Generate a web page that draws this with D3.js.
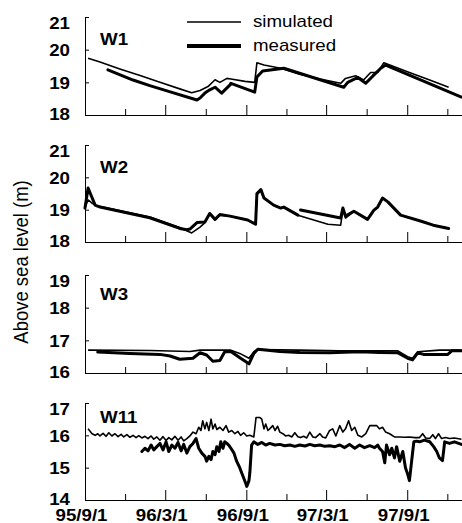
<!DOCTYPE html>
<html>
<head>
<meta charset="utf-8">
<script src="https://d3js.org/d3.v7.min.js"></script>
<style>
  body { margin: 0; background: #fff; }
  svg { display: block; font-family: Arial, "Liberation Sans", sans-serif; }
</style>
</head>
<body>
<script>
// data: [days after 1995/9/1, water level above sea level (m)]
var w1Sim = [[7,19.74],[34,19.62],[79,19.41],[125,19.21],[170,19.0],[215,18.8],[242,18.68],[261,18.75],[279,18.87],[295,19.08],[306,19.0],[322,19.12],[331,19.1],[363,19.03],[385,19.0],[390,19.6],[406,19.53],[444,19.43],[487,19.25],[533,19.1],[580,18.97],[591,19.12],[614,19.2],[632,19.07],[648,19.3],[664,19.3],[678,19.6],[736,19.3],[782,19.07],[825,18.85]];
var w1Mea = [[52,19.38],[109,19.07],[147,18.9],[186,18.74],[254,18.46],[261,18.52],[272,18.67],[283,18.77],[295,18.85],[310,18.67],[329,18.92],[331,18.97],[385,18.7],[390,19.16],[403,19.35],[451,19.43],[587,18.85],[596,19.0],[619,19.15],[637,18.97],[655,19.22],[671,19.43],[682,19.53],[854,18.55]];

var w2Sim = [[0,19.08],[7,19.3],[16,19.2],[27,19.12],[147,18.77],[215,18.45],[242,18.28],[261,18.46],[272,18.6],[283,18.9],[295,18.68],[306,18.83],[329,18.8],[369,18.68],[387,18.55],[390,19.45],[399,19.6],[406,19.36],[428,19.14],[444,19.05],[451,19.08],[483,18.83],[551,18.55],[580,18.52],[585,19.0],[591,18.74],[610,18.95],[641,18.7],[655,18.98],[664,19.08],[675,19.36],[687,19.24],[716,18.83],[761,18.65],[790,18.52],[823,18.43]];
var w2Mea = [[0,19.05],[7,19.67],[23,19.14],[34,19.08],[147,18.75],[215,18.42],[231,18.38],[238,18.4],[254,18.6],[272,18.62],[283,18.88],[295,18.7],[306,18.85],[329,18.8],[369,18.68],[387,18.55],[390,19.5],[399,19.62],[406,19.36],[428,19.14],[444,19.05],[451,19.08],[483,18.83],[486,null],[489,18.99],[580,18.74],[585,19.05],[591,18.8],[610,18.95],[641,18.7],[655,18.98],[664,19.08],[675,19.36],[687,19.24],[716,18.83],[761,18.65],[790,18.52],[825,18.42]];

var w3Sim = [[7,16.7],[147,16.69],[238,16.66],[261,16.7],[331,16.7],[351,16.6],[372,16.45],[383,16.65],[392,16.72],[487,16.7],[578,16.68],[709,16.68],[732,16.5],[743,16.45],[755,16.65],[804,16.7],[854,16.7]];
var w3Mea = [[29,16.64],[102,16.6],[170,16.57],[193,16.52],[215,16.42],[245,16.45],[261,16.62],[276,16.55],[290,16.36],[306,16.38],[317,16.65],[331,16.66],[353,16.45],[372,16.28],[383,16.6],[392,16.73],[442,16.66],[487,16.63],[555,16.62],[623,16.65],[668,16.63],[709,16.62],[732,16.45],[743,16.4],[755,16.62],[768,16.57],[823,16.57],[832,16.68],[854,16.68]];

var w11Sim = [[7,16.2],[16,16.05],[23,16.0],[29,16.05],[34,15.98],[41,16.06],[48,15.97],[54,16.08],[61,15.98],[68,16.05],[75,15.96],[82,16.03],[88,15.95],[95,16.02],[102,15.94],[109,16.0],[116,15.93],[122,15.99],[129,15.92],[136,15.97],[143,15.9],[150,15.98],[156,15.88],[163,15.95],[170,15.85],[177,15.96],[184,15.84],[190,15.93],[197,15.86],[204,15.97],[211,15.85],[218,15.95],[224,15.83],[231,15.9],[238,15.98],[245,16.1],[252,16.05],[258,16.25],[263,16.15],[267,16.45],[272,16.2],[276,16.4],[281,16.15],[286,16.5],[290,16.2],[295,16.35],[299,16.18],[306,16.25],[313,16.15],[320,16.3],[326,16.1],[333,16.15],[340,16.05],[347,16.12],[353,16.0],[360,16.08],[367,15.98],[374,16.0],[383,15.95],[388,16.55],[397,16.55],[401,16.5],[406,16.2],[410,16.35],[415,16.15],[419,16.2],[426,16.3],[431,16.15],[437,16.28],[442,16.1],[449,16.05],[455,15.98],[462,16.0],[469,15.95],[476,16.08],[483,15.96],[489,15.93],[496,15.97],[503,15.92],[510,16.1],[517,15.95],[523,15.93],[533,16.05],[539,15.95],[546,15.92],[555,16.15],[562,16.2],[569,15.98],[578,16.3],[585,16.1],[591,16.2],[598,16.45],[605,16.15],[612,16.25],[619,16.0],[628,15.95],[637,16.05],[646,16.3],[655,16.3],[662,16.3],[668,16.2],[675,16.25],[682,16.1],[691,16.05],[702,15.95],[714,15.95],[725,15.94],[736,15.95],[748,15.93],[759,15.93],[766,16.05],[773,15.92],[782,15.9],[789,16.02],[795,15.9],[802,16.05],[809,15.9],[818,15.93],[827,15.9],[838,15.92],[854,15.88]];
var w11Mea = [[129,15.5],[136,15.6],[143,15.52],[150,15.7],[156,15.55],[163,15.65],[170,15.75],[177,15.55],[184,15.8],[190,15.5],[197,15.7],[204,15.6],[211,15.78],[218,15.52],[224,15.72],[231,15.45],[238,15.65],[245,15.75],[252,15.9],[258,15.6],[265,15.45],[272,15.35],[276,15.2],[281,15.35],[286,15.25],[290,15.5],[295,15.4],[299,15.65],[304,15.5],[308,15.8],[313,15.6],[317,15.8],[322,15.75],[326,15.7],[331,15.6],[338,15.45],[344,15.2],[351,15.0],[358,14.75],[365,14.5],[367,14.42],[372,14.6],[374,14.85],[378,15.7],[383,15.8],[392,15.72],[401,15.78],[410,15.7],[419,15.75],[431,15.7],[442,15.72],[453,15.68],[465,15.7],[476,15.66],[487,15.7],[499,15.67],[510,15.72],[521,15.68],[533,15.7],[544,15.66],[555,15.68],[567,15.65],[578,15.7],[589,15.62],[600,15.72],[612,15.6],[623,15.7],[634,15.62],[646,15.68],[657,15.62],[664,15.7],[668,15.6],[675,15.5],[680,15.15],[684,15.7],[691,15.4],[696,15.6],[702,15.3],[707,15.65],[714,15.2],[721,15.5],[727,15.0],[732,14.8],[736,14.6],[741,15.2],[746,15.8],[752,15.82],[759,15.8],[770,15.85],[782,15.8],[791,15.65],[798,15.5],[804,15.3],[811,15.22],[816,15.8],[827,15.75],[838,15.8],[854,15.72]];

var w1Ticks = [18, 19, 20, 21];
var w2Ticks = [18, 19, 20, 21];
var w3Ticks = [16, 17, 18, 19];
var w11Ticks = [14, 15, 16, 17];

var majorDates = ["1995-09-01", "1996-03-01", "1996-09-01", "1997-03-01", "1997-09-01"];
var majorLabels = ["95/9/1", "96/3/1", "96/9/1", "97/3/1", "97/9/1"];
var minorDates = ["1995-12-01", "1996-06-01", "1996-12-01", "1997-06-01", "1997-12-01"];

var panels = [
  {name: "W1", sim: w1Sim, mea: w1Mea, ticks: w1Ticks, top: 17, bottom: 115, nameY: 45},
  {name: "W2", sim: w2Sim, mea: w2Mea, ticks: w2Ticks, top: 145, bottom: 242, nameY: 173},
  {name: "W3", sim: w3Sim, mea: w3Mea, ticks: w3Ticks, top: 275, bottom: 373, nameY: 300},
  {name: "W11", sim: w11Sim, mea: w11Mea, ticks: w11Ticks, top: 403, bottom: 500, nameY: 423}
];

var width = 462, height = 523;
var sx = 1.14;      // the source glyphs are a bit wide
var fs = 16.4;

var svg = d3.select("body").append("svg")
  .attr("width", width)
  .attr("height", height);

var parse = d3.timeParse("%Y-%m-%d");
var t0 = parse("1995-09-01");
var x = d3.scaleTime()
  .domain([t0, parse("1998-01-01")])
  .range([85, 461]);

function day(d) { return d3.timeDay.offset(t0, d); }

panels.forEach(function(p, pi) {
  var y = d3.scaleLinear()
    .domain([p.ticks[0], p.ticks[p.ticks.length - 1]])
    .range([p.bottom, p.top]);

  var g = svg.append("g");

  var line = d3.line()
    .defined(function(d) { return d[1] != null; })
    .x(function(d) { return x(day(d[0])); })
    .y(function(d) { return y(d[1]); });

  g.append("path")
    .datum(p.sim)
    .attr("d", line)
    .attr("fill", "none")
    .attr("stroke", "#000")
    .attr("stroke-width", 1.6)
    .attr("stroke-linejoin", "round");

  g.append("path")
    .datum(p.mea)
    .attr("d", line)
    .attr("fill", "none")
    .attr("stroke", "#000")
    .attr("stroke-width", 3)
    .attr("stroke-linejoin", "round")
    .attr("stroke-linecap", "round");

  // y axis, ticks inside
  var ya = g.append("g")
    .attr("transform", "translate(85,0)")
    .call(d3.axisLeft(y).tickValues(p.ticks).tickFormat(d3.format("d"))
      .tickSizeInner(-4).tickSizeOuter(0).tickPadding(15));
  ya.selectAll("text")
    .attr("font-size", fs)
    .attr("font-weight", "bold")
    .attr("font-family", "Arial, 'Liberation Sans', sans-serif")
    .attr("x", -15 / sx)
    .attr("dy", function(d, i) {
      if (i == 0) return 4;
      if (i == p.ticks.length - 1) return 11;
      return 6;
    })
    .attr("transform", "scale(" + sx + ",1)");

  // x axis, ticks inside (up)
  var last = pi == panels.length - 1;
  var xa = g.append("g")
    .attr("transform", "translate(0," + p.bottom + ")")
    .call(d3.axisBottom(x).tickValues(majorDates.map(parse)).tickSizeInner(-10).tickSizeOuter(0).tickPadding(9)
      .tickFormat(function(d, i) { return last ? majorLabels[i] : ""; }));
  xa.select(".domain").attr("d", "M85,0.5H462");
  xa.selectAll("text")
    .attr("font-size", fs)
    .attr("font-weight", "bold")
    .attr("font-family", "Arial, 'Liberation Sans', sans-serif")
    .attr("x", -4 / sx)
    .attr("transform", "scale(" + sx + ",1)");

  var xm = g.append("g")
    .attr("transform", "translate(0," + p.bottom + ")")
    .call(d3.axisBottom(x).tickValues(minorDates.map(parse)).tickSizeInner(-6).tickSizeOuter(0).tickFormat(""));
  xm.select(".domain").remove();

  // well name
  g.append("text")
    .attr("transform", "translate(100," + p.nameY + ") scale(" + sx + ",1)")
    .attr("font-size", fs)
    .attr("font-weight", "bold")
    .text(p.name);
});

// legend
var legend = svg.append("g");
legend.append("line")
  .attr("x1", 187).attr("x2", 241).attr("y1", 22).attr("y2", 22)
  .attr("stroke", "#000").attr("stroke-width", 1.3);
legend.append("line")
  .attr("x1", 187).attr("x2", 241).attr("y1", 46).attr("y2", 46)
  .attr("stroke", "#000").attr("stroke-width", 4);
legend.append("text")
  .attr("transform", "translate(253,27) scale(" + sx + ",1)")
  .attr("font-size", fs)
  .text("simulated");
legend.append("text")
  .attr("transform", "translate(253,51) scale(" + sx + ",1)")
  .attr("font-size", fs)
  .text("measured");

// y axis title
svg.append("text")
  .attr("transform", "translate(28,262) scale(1.1,1) rotate(-90)")
  .attr("text-anchor", "middle")
  .attr("font-size", 18.5)
  .text("Above sea level (m)");
</script>
</body>
</html>
